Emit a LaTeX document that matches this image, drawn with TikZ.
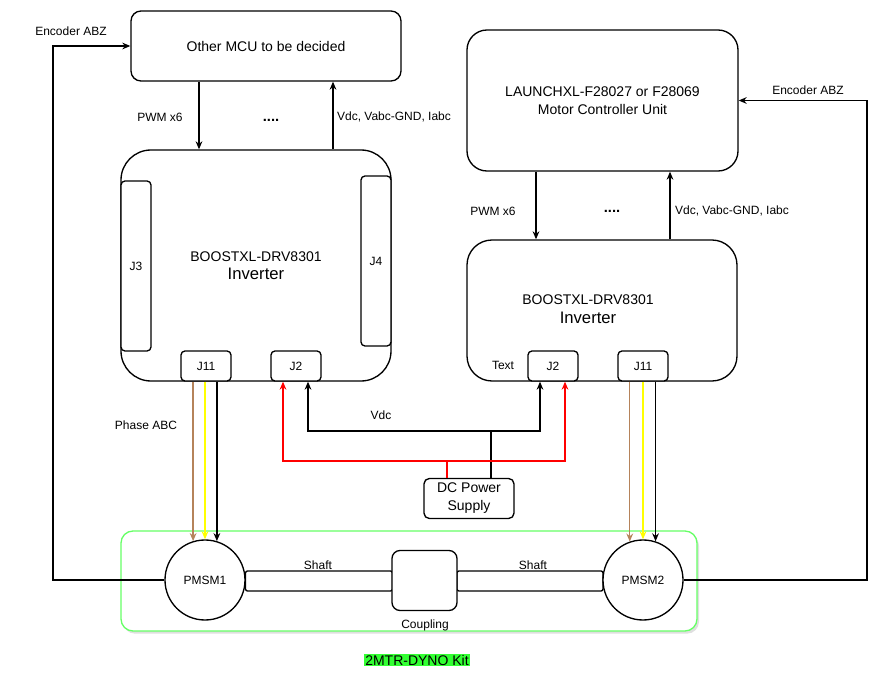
\documentclass[tikz,border=0pt]{standalone}
\usepackage{fontspec}
\setmainfont{Liberation Sans}
\usetikzlibrary{arrows.meta, shadows}
\definecolor{phasebrown}{RGB}{181,131,90}
\definecolor{phaseyellow}{RGB}{255,255,0}
\definecolor{kitgreen}{RGB}{102,255,102}
\definecolor{tagfill}{RGB}{51,255,51}

\begin{document}
\begin{tikzpicture}[
    x=0.75pt, y=-0.75pt,
    board/.style={rectangle, draw, line width=1pt, fill=white, align=center, inner sep=0pt, font=\fontsize{10.5}{13.5}\selectfont},
    header/.style={board, rounded corners=3pt, minimum width=37.5pt, minimum height=22.5pt, font=\fontsize{9}{11}\selectfont},
    strip/.style={board, rounded corners=3pt, minimum width=22.5pt, minimum height=127.5pt, font=\fontsize{9}{11}\selectfont},
    motor/.style={circle, draw, line width=1pt, fill=white, minimum size=60pt, inner sep=0pt, font=\fontsize{9}{11}\selectfont},
    shaftbar/.style={rectangle, draw, line width=1pt, fill=white, rounded corners=1.5pt, minimum height=15pt, inner sep=0pt},
    note/.style={font=\fontsize{9}{11}\selectfont, inner sep=1pt},
    dots/.style={font=\fontsize{11}{12}\selectfont\bfseries, inner sep=0pt},
    wire/.style={-{Stealth[length=6pt, width=5pt]}, line width=1pt},
]
\useasboundingbox (0,0) rectangle (886,681);

% controllers
\node[board, rounded corners=7.5pt, minimum width=202.5pt, minimum height=52.5pt] (mcu2) at (266,46) {Other MCU to be decided};
\node[board, rounded corners=15pt, minimum width=203.25pt, minimum height=105.75pt] (mcu1) at (602.5,100.5) {LAUNCHXL-F28027 or F28069\\Motor Controller Unit};

% inverters
\node[board, rounded corners=22.5pt, minimum width=202.5pt, minimum height=173.25pt] (inv1) at (256,265.5) {BOOSTXL-DRV8301\\{\fontsize{12.5}{14}\selectfont Inverter}};
\node[strip] (j3) at (136,266) {J3};
\node[strip] (j4) at (376,261) {J4};
\node[header] (j11a) at (206,366) {J11};
\node[header] (j2a) at (296,366) {J2};

\node[board, rounded corners=18.75pt, minimum width=202.5pt, minimum height=105.75pt] (inv2) at (602,310.5) {};
\node[align=center, inner sep=0pt, font=\fontsize{10.5}{14}\selectfont] (inv2txt) at (588,309.5) {BOOSTXL-DRV8301\\{\fontsize{12.5}{14}\selectfont Inverter}};
\node[header] (j2b) at (553,366) {J2};
\node[header] (j11b) at (643,366) {J11};
\node[note] (texttxt) at (503,365) {Text};

\node[board, rounded corners=4pt, minimum width=67.5pt, minimum height=30pt] (dc) at (469,498.5) {DC Power\\Supply};

% dyno kit
\node[rectangle, draw=kitgreen, line width=1pt, fill=white, rounded corners=9pt, minimum width=432pt, minimum height=75pt,
      drop shadow={opacity=0.25, shadow xshift=1.5pt, shadow yshift=-2pt}] (kit) at (409,581) {};
\node[shaftbar, minimum width=110.25pt] (shaft1) at (319,581) {};
\node[shaftbar, minimum width=109.5pt] (shaft2) at (530,581) {};
\node[board, rounded corners=6pt, minimum width=48.75pt, minimum height=45pt] (coupling) at (424.5,580.5) {};
\node[motor] (pmsm1) at (205,580) {PMSM1};
\node[motor] (pmsm2) at (643,580) {PMSM2};
\node[note] (shaft1txt) at (318,565) {Shaft};
\node[note] (shaft2txt) at (533,565) {Shaft};
\node[note] (couptxt) at (425,625) {Coupling};
\node[fill=tagfill, inner sep=1pt, font=\fontsize{10.5}{12}\selectfont] (kittxt) at (417,660) {2MTR-DYNO Kit};

% signal columns
\coordinate (pwm1) at (199,0);
\coordinate (meas1) at (333,0);
\coordinate (pwm2) at (536,0);
\coordinate (meas2) at (670,0);
\coordinate (encL) at (53,300);
\coordinate (encR) at (867,300);

\draw[wire] (mcu2.south -| pwm1) -- (inv1.north -| pwm1);
\draw[wire] (inv1.north -| meas1) -- (mcu2.south -| meas1);
\draw[wire] (mcu1.south -| pwm2) -- (inv2.north -| pwm2);
\draw[wire] (inv2.north -| meas2) -- (mcu1.south -| meas2);

\node[note] (pwm1txt) at (160,117) {PWM x6};
\node[dots] (dots1) at (271,120) {....};
\node[note] (meas1txt) at (394,117) {Vdc, Vabc-GND, Iabc};
\node[note] (pwm2txt) at (493,211) {PWM x6};
\node[dots] (dots2) at (612,211) {....};
\node[note] (meas2txt) at (732,211) {Vdc, Vabc-GND, Iabc};

% encoder feedback
\draw[wire] (pmsm1.west) -| (encL) |- (mcu2.west);
\draw[wire] (pmsm2.east) -| (encR) |- (mcu1.east);
\node[note] (encLtxt) at (71,31) {Encoder ABZ};
\node[note] (encRtxt) at (808,90) {Encoder ABZ};

% phase wires
\draw[wire, draw=phasebrown] (j11a.south -| pmsm1.107) -- (pmsm1.107);
\draw[wire, draw=phaseyellow] (j11a.south -| pmsm1.90) -- (pmsm1.90);
\draw[wire] (j11a.south -| pmsm1.73) -- (pmsm1.73);
\draw[wire, draw=phasebrown] (j11b.south -| pmsm2.109) -- (pmsm2.109);
\draw[wire, draw=phaseyellow] (j11b.south -| pmsm2.90) -- (pmsm2.90);
\draw[wire] (j11b.south -| pmsm2.72) -- (pmsm2.72);
\node[note] (phasetxt) at (146,425) {Phase ABC};

% supply
\draw[wire] ([xshift=16.5pt]dc.north) -- ++(0,-47) -| ([xshift=9pt]j2a.south);
\draw[wire] ([xshift=16.5pt]dc.north) -- ++(0,-47) -| ([xshift=-9.75pt]j2b.south);
\draw[wire, draw=red] ([xshift=-16.5pt]dc.north) -- ++(0,-17) -| ([xshift=-9.75pt]j2a.south);
\draw[wire, draw=red] ([xshift=-16.5pt]dc.north) -- ++(0,-17) -| ([xshift=9pt]j2b.south);
\node[note] (vdctxt) at (381,415) {Vdc};

\end{tikzpicture}
\end{document}
